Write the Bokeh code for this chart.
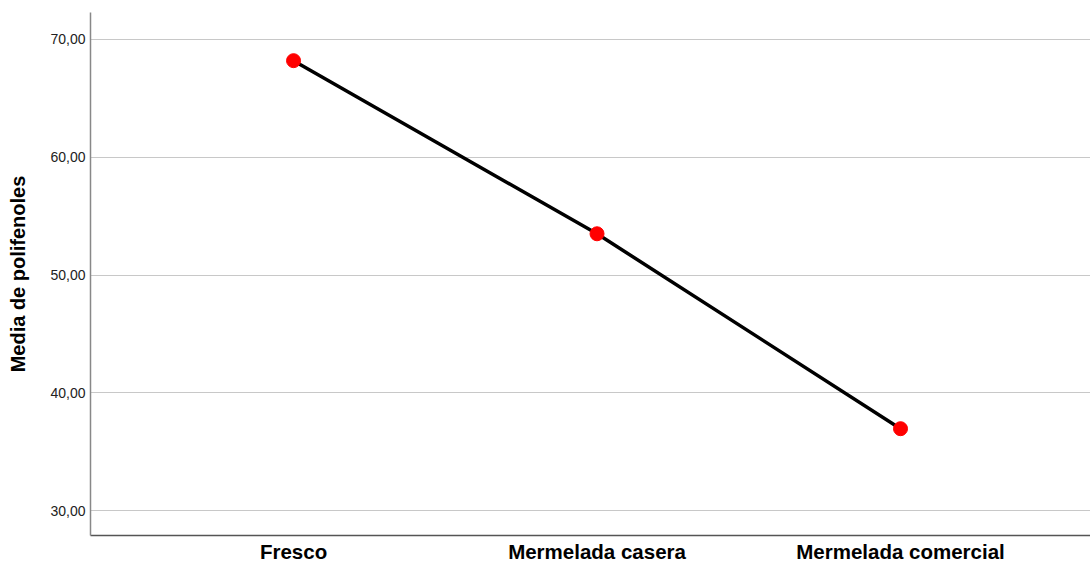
from bokeh.plotting import figure
from bokeh.models import FixedTicker, Range1d
from bokeh.embed import file_html
from bokeh.resources import INLINE

categories = ["Fresco", "Mermelada casera", "Mermelada comercial"]
means = [68.2, 53.5, 36.95]
y_ticks = [30, 40, 50, 60, 70]
y_tick_labels = ["30,00", "40,00", "50,00", "60,00", "70,00"]

xs = list(range(1, len(categories) + 1))

p = figure(width=1090, height=565, output_backend="svg", toolbar_location=None,
           x_range=Range1d(0.331, 3.626), y_range=Range1d(27.88, 72.29),
           min_border_left=90, min_border_right=0, min_border_top=12, min_border_bottom=30)
p.outline_line_color = None
p.background_fill_color = "white"

p.line(xs, means, line_color="black", line_width=3.5)
p.scatter(xs, means, size=14, fill_color="red", line_color="red")

p.xaxis.ticker = FixedTicker(ticks=xs)
p.xaxis.major_label_overrides = {x: c for x, c in zip(xs, categories)}
p.xaxis.major_label_text_font = "Liberation Sans"
p.xaxis.major_label_text_font_style = "bold"
p.xaxis.major_label_text_font_size = "20.5px"
p.xaxis.major_label_text_color = "black"
p.xaxis.major_label_standoff = 4
p.xaxis.major_tick_out = 0
p.xaxis.major_tick_in = 0
p.xaxis.minor_tick_out = 0
p.xaxis.minor_tick_in = 0
p.xaxis.major_tick_line_color = None
p.xaxis.minor_tick_line_color = None
p.xaxis.axis_line_color = "#555555"
p.xaxis.axis_line_width = 1.5

p.yaxis.ticker = FixedTicker(ticks=y_ticks)
p.yaxis.major_label_overrides = {t: l for t, l in zip(y_ticks, y_tick_labels)}
p.yaxis.major_label_text_font = "Liberation Sans"
p.yaxis.major_label_text_font_size = "14px"
p.yaxis.major_label_text_color = "#222222"
p.yaxis.major_label_standoff = 5
p.yaxis.major_tick_out = 0
p.yaxis.major_tick_in = 0
p.yaxis.minor_tick_out = 0
p.yaxis.minor_tick_in = 0
p.yaxis.major_tick_line_color = None
p.yaxis.minor_tick_line_color = None
p.yaxis.axis_line_color = "#888888"
p.yaxis.axis_line_width = 1.5
p.yaxis.axis_label = "Media de polifenoles"
p.yaxis.axis_label_text_font = "Liberation Sans"
p.yaxis.axis_label_text_font_style = "bold"
p.yaxis.axis_label_text_font_size = "20px"
p.yaxis.axis_label_text_color = "black"
p.yaxis.axis_label_standoff = 18

p.xgrid.grid_line_color = None
p.ygrid.ticker = FixedTicker(ticks=y_ticks)
p.ygrid.grid_line_color = "#c8c8c8"
p.ygrid.grid_line_width = 1.2

open("out.html", "w").write(file_html(p, INLINE))
